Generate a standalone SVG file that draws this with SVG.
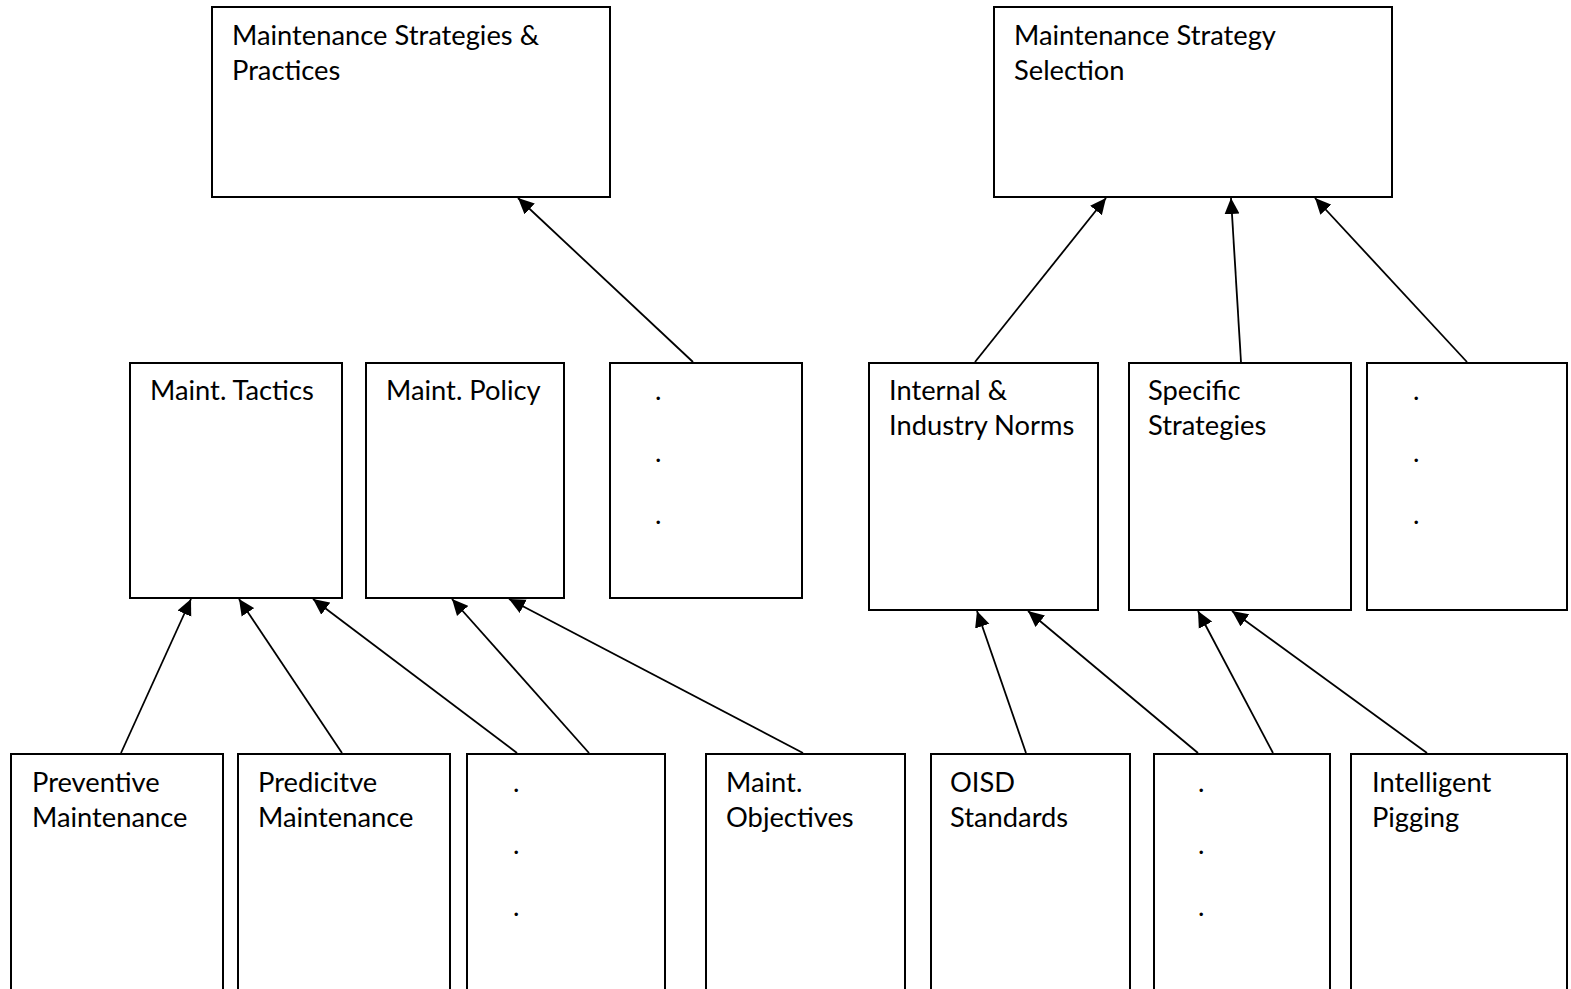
<svg xmlns="http://www.w3.org/2000/svg" width="1571" height="989" viewBox="0 0 1571 989">
  <style>
    .box { fill: #ffffff; stroke: #000000; stroke-width: 2; }
    .lbl { font-family: Lato, "Liberation Sans", sans-serif; font-size: 27.3px; fill: #000000; }
    .edge { stroke: #000000; stroke-width: 1.8; fill: none; marker-end: url(#arrow); }
  </style>
  <defs>
    <marker id="arrow" markerUnits="userSpaceOnUse" markerWidth="17" markerHeight="16" refX="16" refY="8" orient="auto">
      <path d="M0,0.5 L16,8 L0,15.5 Z" fill="#000000"/>
    </marker>
  </defs>
  <rect width="1571" height="989" fill="#ffffff"/>

  <!-- top level -->
  <g id="strategies-practices">
    <rect class="box" x="212" y="7" width="398" height="190"/>
    <text class="lbl" x="232" y="45">Maintenance Strategies &amp;</text>
    <text class="lbl" x="232" y="80">Practices</text>
  </g>
  <g id="strategy-selection">
    <rect class="box" x="994" y="7" width="398" height="190"/>
    <text class="lbl" x="1014" y="45">Maintenance Strategy</text>
    <text class="lbl" x="1014" y="80">Selection</text>
  </g>

  <!-- middle level -->
  <g id="maint-tactics">
    <rect class="box" x="130" y="363" width="212" height="235"/>
    <text class="lbl" x="150" y="400">Maint. Tactics</text>
  </g>
  <g id="maint-policy">
    <rect class="box" x="366" y="363" width="198" height="235"/>
    <text class="lbl" x="386" y="400">Maint. Policy</text>
  </g>
  <g id="more-left">
    <rect class="box" x="610" y="363" width="192" height="235"/>
    <text class="lbl" x="655" y="400">.</text>
    <text class="lbl" x="655" y="462">.</text>
    <text class="lbl" x="655" y="524">.</text>
  </g>
  <g id="norms">
    <rect class="box" x="869" y="363" width="229" height="247"/>
    <text class="lbl" x="889" y="400">Internal &amp;</text>
    <text class="lbl" x="889" y="435">Industry Norms</text>
  </g>
  <g id="specific-strategies">
    <rect class="box" x="1129" y="363" width="222" height="247"/>
    <text class="lbl" x="1148" y="400">Specific</text>
    <text class="lbl" x="1148" y="435">Strategies</text>
  </g>
  <g id="more-right">
    <rect class="box" x="1367" y="363" width="200" height="247"/>
    <text class="lbl" x="1413" y="400">.</text>
    <text class="lbl" x="1413" y="462">.</text>
    <text class="lbl" x="1413" y="524">.</text>
  </g>

  <!-- bottom level -->
  <g id="preventive">
    <rect class="box" x="11" y="754" width="212" height="260"/>
    <text class="lbl" x="32" y="792">Preventive</text>
    <text class="lbl" x="32" y="827">Maintenance</text>
  </g>
  <g id="predictive">
    <rect class="box" x="238" y="754" width="212" height="260"/>
    <text class="lbl" x="258" y="792">Predicitve</text>
    <text class="lbl" x="258" y="827">Maintenance</text>
  </g>
  <g id="more-tactics">
    <rect class="box" x="467" y="754" width="198" height="260"/>
    <text class="lbl" x="513" y="792">.</text>
    <text class="lbl" x="513" y="854">.</text>
    <text class="lbl" x="513" y="916">.</text>
  </g>
  <g id="objectives">
    <rect class="box" x="706" y="754" width="199" height="260"/>
    <text class="lbl" x="726" y="792">Maint.</text>
    <text class="lbl" x="726" y="827">Objectives</text>
  </g>
  <g id="oisd">
    <rect class="box" x="931" y="754" width="199" height="260"/>
    <text class="lbl" x="950" y="792">OISD</text>
    <text class="lbl" x="950" y="827">Standards</text>
  </g>
  <g id="more-norms">
    <rect class="box" x="1154" y="754" width="176" height="260"/>
    <text class="lbl" x="1198" y="792">.</text>
    <text class="lbl" x="1198" y="854">.</text>
    <text class="lbl" x="1198" y="916">.</text>
  </g>
  <g id="pigging">
    <rect class="box" x="1351" y="754" width="216" height="260"/>
    <text class="lbl" x="1372" y="792">Intelligent</text>
    <text class="lbl" x="1372" y="827">Pigging</text>
  </g>

  <!-- connectors: child top edge to parent bottom edge -->
  <g id="connectors">
    <line class="edge" x1="693" y1="362" x2="518" y2="198"/>
    <line class="edge" x1="975" y1="362" x2="1106" y2="198"/>
    <line class="edge" x1="1241" y1="362" x2="1231" y2="198"/>
    <line class="edge" x1="1467" y1="362" x2="1315" y2="198"/>
    <line class="edge" x1="121" y1="753" x2="191" y2="599"/>
    <line class="edge" x1="342" y1="753" x2="239" y2="599"/>
    <line class="edge" x1="517" y1="753" x2="313" y2="599"/>
    <line class="edge" x1="589" y1="753" x2="452" y2="599"/>
    <line class="edge" x1="803" y1="753" x2="509" y2="599"/>
    <line class="edge" x1="1026" y1="753" x2="977" y2="611"/>
    <line class="edge" x1="1198" y1="753" x2="1028" y2="611"/>
    <line class="edge" x1="1273" y1="753" x2="1198" y2="611"/>
    <line class="edge" x1="1427" y1="753" x2="1232" y2="611"/>
  </g>
</svg>
